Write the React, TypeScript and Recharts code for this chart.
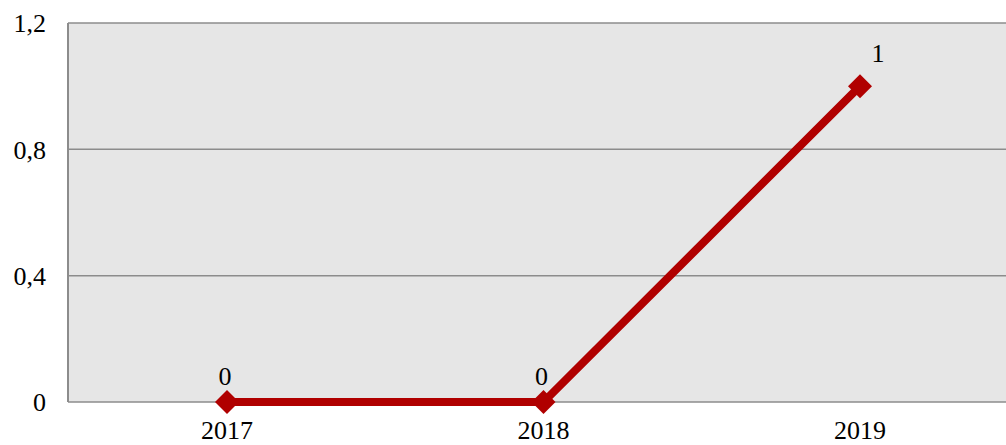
import { CartesianGrid, LabelList, Line, LineChart, XAxis, YAxis } from "recharts";

const years = ["2017", "2018", "2019"];
const values = [0, 0, 1];
const yTicks = [0, 0.4, 0.8, 1.2];

const data = years.map((year, i) => ({ year, value: values[i] }));

const FONT = "'Liberation Serif', 'Times New Roman', serif";
const RED = "#b00000";

function Diamond(props: any) {
  const { cx, cy } = props;
  if (cx == null || cy == null) return null;
  const r = 12;
  return (
    <polygon
      points={`${cx},${cy - r} ${cx + r},${cy} ${cx},${cy + r} ${cx - r},${cy}`}
      fill={RED}
    />
  );
}

// last label sits up and to the right of its point, like in the original
function PointLabel(props: any) {
  const { x, y, value, index } = props;
  const last = index === years.length - 1;
  return (
    <text
      x={x + (last ? 18 : -2)}
      y={y - (last ? 24 : 17)}
      textAnchor="middle"
      fontFamily={FONT}
      fontSize={26}
      fill="#000"
    >
      {value}
    </text>
  );
}

export default function App() {
  return (
    <div
      style={{
        position: "fixed",
        left: 0,
        top: 0,
        width: 1006,
        height: 445,
        overflow: "hidden",
        background: "#fff",
      }}
    >
      <LineChart
        width={1040}
        height={445}
        data={data}
        margin={{ top: 23, right: 21, bottom: 0, left: 0 }}
      >
        <CartesianGrid vertical={false} stroke="#8c8c8c" strokeWidth={1.5} fill="#e6e6e6" />
        <XAxis
          dataKey="year"
          height={43}
          padding={{ left: 159, right: 159 }}
          tickLine={false}
          tickSize={0}
          tickMargin={19}
          axisLine={false}
          tick={{ fontFamily: FONT, fontSize: 26, fill: "#000" }}
        />
        <YAxis
          width={68}
          domain={[0, 1.2]}
          ticks={yTicks}
          tickLine={false}
          tickSize={0}
          tickMargin={22}
          axisLine={{ stroke: "#8c8c8c", strokeWidth: 2 }}
          tickFormatter={(v: number) => String(v).replace(".", ",")}
          tick={{ fontFamily: FONT, fontSize: 26, fill: "#000" }}
        />
        <Line
          dataKey="value"
          stroke={RED}
          strokeWidth={8}
          dot={<Diamond />}
          activeDot={false}
          isAnimationActive={false}
        >
          <LabelList dataKey="value" content={<PointLabel />} />
        </Line>
      </LineChart>
    </div>
  );
}
